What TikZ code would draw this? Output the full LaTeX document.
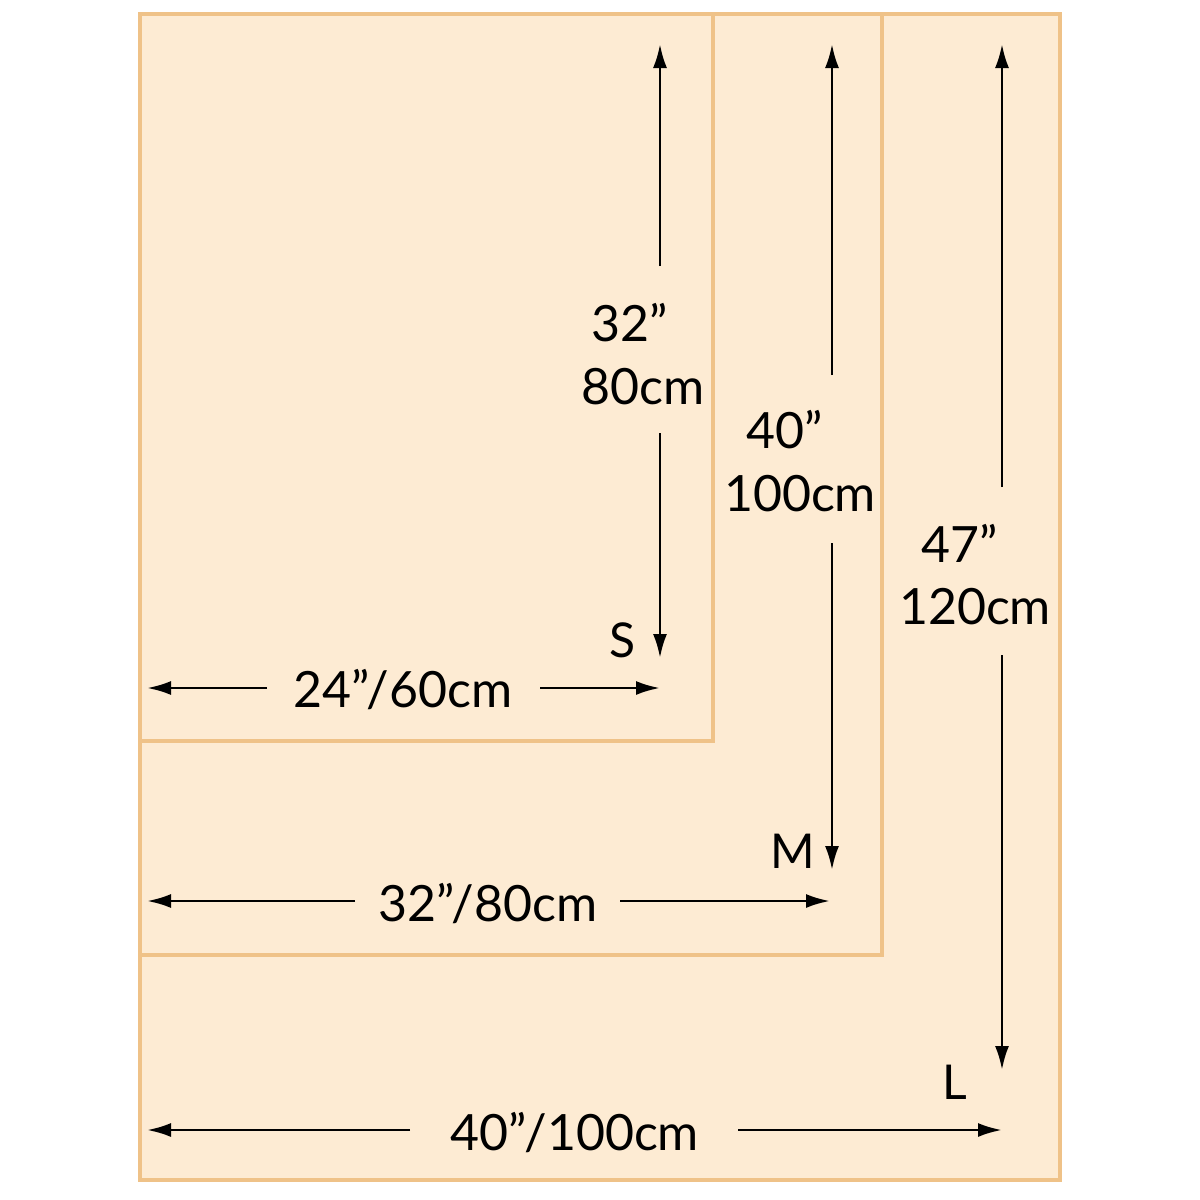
\documentclass[tikz,border=0pt]{standalone}
\usepackage{fontspec}
\setmainfont{Lato}
\usetikzlibrary{arrows.meta}
\definecolor{matfill}{HTML}{FDEBD3}
\definecolor{matedge}{HTML}{EFC288}
\tikzset{
  mat/.style={draw=matedge,line width=1.8pt,fill=matfill},
  dim/.style={line width=1.4pt,-{Latex[length=12pt,width=7pt]}},
  lbl/.style={font=\fontsize{25}{28}\selectfont,inner sep=0pt},
  sz/.style={font=\fontsize{24}{28}\selectfont,inner sep=0pt}
}
\begin{document}
\begin{tikzpicture}[x=0.5pt,y=-0.5pt]
\useasboundingbox (0,0) rectangle (1200,1200);
\fill[white] (0,0) rectangle (1200,1200);
% mats
\draw[mat] (140,14) rectangle (1060,1180);
\draw[mat] (140,14) rectangle (882,955);
\draw[mat] (140,14) rectangle (713,741);
% S vertical
\coordinate (sT0) at (660,266); \coordinate (sT1) at (660,44);
\coordinate (sB0) at (660,433); \coordinate (sB1) at (660,658);
\node[lbl] (s1) at (630,323) {32”};
\node[lbl] (s2) at (643,387) {80cm};
\draw[dim] (sT0) -- (sT1);
\draw[dim] (sB0) -- (sB1);
\node[sz] (sS) at (623,640) {S};
% S horizontal
\node[lbl] (sw) at (403,690) {24”/60cm};
\coordinate (sL0) at (267,688); \coordinate (sL1) at (147,688);
\coordinate (sR0) at (540,688); \coordinate (sR1) at (660,688);
\draw[dim] (sL0) -- (sL1);
\draw[dim] (sR0) -- (sR1);
% M vertical
\coordinate (mT0) at (832,375); \coordinate (mT1) at (832,44);
\coordinate (mB0) at (832,543); \coordinate (mB1) at (832,870);
\node[lbl] (m1) at (785,430) {40”};
\node[lbl] (m2) at (800,494) {100cm};
\draw[dim] (mT0) -- (mT1);
\draw[dim] (mB0) -- (mB1);
\node[sz] (mM) at (793,851) {M};
% M horizontal
\node[lbl] (mw) at (488,903) {32”/80cm};
\coordinate (mL0) at (355,901); \coordinate (mL1) at (147,901);
\coordinate (mR0) at (620,901); \coordinate (mR1) at (830,901);
\draw[dim] (mL0) -- (mL1);
\draw[dim] (mR0) -- (mR1);
% L vertical
\coordinate (lT0) at (1002,487); \coordinate (lT1) at (1002,44);
\coordinate (lB0) at (1002,655); \coordinate (lB1) at (1002,1070);
\node[lbl] (l1) at (960,543) {47”};
\node[lbl] (l2) at (975,607) {120cm};
\draw[dim] (lT0) -- (lT1);
\draw[dim] (lB0) -- (lB1);
\node[sz] (lL) at (955,1082) {L};
% L horizontal
\node[lbl] (lw) at (575,1132) {40”/100cm};
\coordinate (lL0) at (410,1130); \coordinate (lL1) at (147,1130);
\coordinate (lR0) at (738,1130); \coordinate (lR1) at (1002,1130);
\draw[dim] (lL0) -- (lL1);
\draw[dim] (lR0) -- (lR1);
\end{tikzpicture}
\end{document}
